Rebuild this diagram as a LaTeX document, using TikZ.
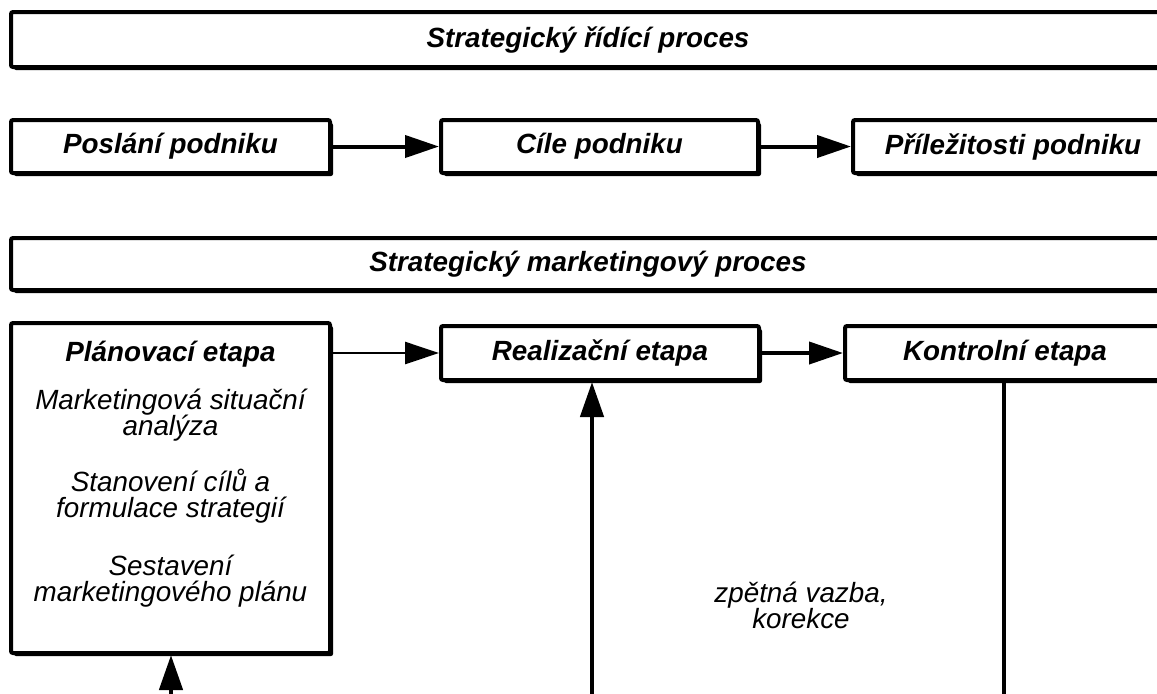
\documentclass[tikz,border=0pt]{standalone}
\usepackage{fontspec}
\setmainfont{Liberation Sans}
\usetikzlibrary{arrows.meta,shadows}

% fixed baseline distance for stacked lines
\newcommand\evenlines{\lineskiplimit=-20pt\relax}

\tikzset{
  procbox/.style={draw, fill=white, line width=2pt, rounded corners=1pt,
    inner sep=0pt, align=center,
    drop shadow={shadow xshift=1.5pt, shadow yshift=-1.5pt, opacity=1, fill=black}},
  headtext/.style={font=\fontsize{13.9}{13}\selectfont\bfseries\itshape},
  bodytext/.style={font=\fontsize{13.9}{13}\selectfont\itshape\evenlines,
    align=center},
  flow/.style={line width=2pt, -{Triangle[length=17pt,width=11pt]}},
  thinflow/.style={line width=1.3pt, -{Triangle[length=17pt,width=11pt]}},
  upflow/.style={line width=2.3pt, -{Triangle[length=17.5pt,width=11.5pt]}},
  plainline/.style={line width=2pt},
}

\begin{document}
\begin{tikzpicture}[x=0.5pt, y=-0.5pt]
\useasboundingbox (0,0) rectangle (1157,693);
\clip (0,0) rectangle (1157,693);

% strategic management process
\node[procbox, headtext, minimum width=577pt, minimum height=27.5pt]
  (srp) at (588,39.5) {Strategický řídící proces};

\node[procbox, headtext, minimum width=159.5pt, minimum height=26.5pt]
  (posl) at (170.5,146.5) {Poslání podniku};
\node[procbox, headtext, minimum width=158.5pt, minimum height=26.5pt]
  (cile) at (599.5,146.5) {Cíle podniku};
\node[procbox, headtext, minimum width=160pt, minimum height=26.5pt]
  (prilez) at (1013,146.5) {Příležitosti podniku};

\draw[flow] (posl.east) -- (cile.west);
\draw[flow] (cile.east) -- (prilez.west);

% strategic marketing process
\node[procbox, headtext, minimum width=577pt, minimum height=26pt]
  (smp) at (588,264) {Strategický marketingový proces};

\node[procbox, minimum width=159.5pt, minimum height=165pt]
  (plan) at (170.5,488) {};
\node[bodytext, anchor=north] (plantxt) at (170.5,334) {%
  {\bfseries Plánovací etapa}\\[11pt]
  Marketingová situační\\ analýza\\[15pt]
  Stanovení cílů a\\ formulace strategií\\[16pt]
  Sestavení\\ marketingového plánu};

\node[procbox, headtext, minimum width=159pt, minimum height=27pt]
  (real) at (600,353) {Realizační etapa};
\node[procbox, headtext, minimum width=160pt, minimum height=27pt]
  (kontr) at (1005,353) {Kontrolní etapa};

\draw[thinflow] (plan.east |- real.west) -- (real.west);
\draw[flow] (real.east) -- (kontr.west);

% feedback loop
\coordinate (planin) at (171,720);
\coordinate (realin) at (592,720);
\coordinate (kontrout) at (1004,720);

\draw[upflow] (planin) -- (planin |- plan.south);
\draw[upflow] (realin) -- (realin |- real.south);
\draw[plainline] (kontr.south -| kontrout) -- (kontrout);

\node[bodytext] (zpet) at (801,605) {zpětná vazba,\\ korekce};
\end{tikzpicture}
\end{document}
